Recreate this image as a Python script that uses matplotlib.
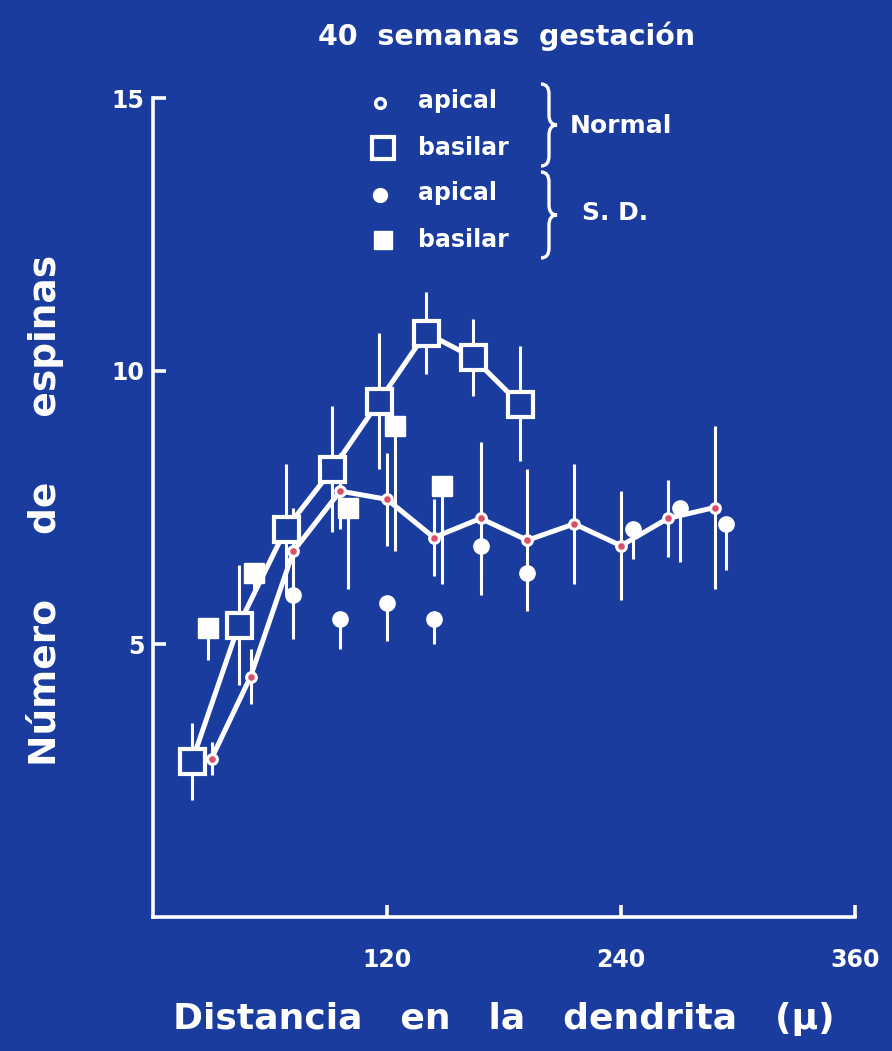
import matplotlib
matplotlib.use("Agg")
import matplotlib.pyplot as plt
from matplotlib.path import Path
from matplotlib.patches import PathPatch
import numpy as np

# Normal, apical dendrites (open circles, joined)
x_norm_apical = [30, 50, 72, 96, 120, 144, 168, 192, 216, 240, 264, 288]
y_norm_apical = [2.9, 4.4, 6.7, 7.8, 7.65, 6.95, 7.3, 6.9, 7.2, 6.8, 7.3, 7.5]
e_norm_apical = [0.3, 0.5, 0.8, 0.7, 0.85, 0.7, 1.4, 1.3, 1.1, 1.0, 0.7, 1.5]

# Normal, basilar dendrites (open squares, joined)
x_norm_basilar = [20, 44, 68, 92, 116, 140, 164, 188]
y_norm_basilar = [2.85, 5.35, 7.1, 8.2, 9.45, 10.7, 10.25, 9.4]
e_norm_basilar = [0.7, 1.1, 1.2, 1.15, 1.25, 0.75, 0.7, 1.05]

# S. D., apical (filled circles, bar below only)
x_sd_apical = [72, 96, 120, 144, 168, 192, 246, 270, 294]
y_sd_apical = [5.9, 5.45, 5.75, 5.45, 6.8, 6.3, 7.1, 7.5, 7.2]
e_sd_apical = [0.8, 0.55, 0.7, 0.45, 0.6, 0.35, 0.55, 1.0, 0.85]

# S. D., basilar (filled squares, bar below only)
x_sd_basilar = [28, 52, 100, 124, 148]
y_sd_basilar = [5.3, 6.3, 7.5, 9.0, 7.9]
e_sd_basilar = [0.6, 0.4, 1.5, 2.3, 1.8]

x_ticks = [120, 240, 360]
y_ticks = [5, 10, 15]

BG = "#1a3c9e"
FG = "white"
W, H = 892, 1051

plt.rcParams["font.family"] = ["DejaVu Sans"]
plt.rcParams["font.weight"] = "bold"

fig = plt.figure(figsize=(W / 100, H / 100), dpi=100, facecolor=BG)
ax = fig.add_axes([153 / W, 1 - 917 / H, (855 - 153) / W, (917 - 98) / H])
ax.set_facecolor(BG)
ax.set_xlim(0, 360)
ax.set_ylim(0, 15)

for side in ["top", "right"]:
    ax.spines[side].set_visible(False)
for side in ["left", "bottom"]:
    ax.spines[side].set_color(FG)
    ax.spines[side].set_linewidth(2.6)

ax.set_xticks(x_ticks)
ax.set_yticks(y_ticks)
ax.tick_params(axis="both", direction="in", color=FG, labelcolor=FG,
               length=9, width=2.6)
ax.tick_params(axis="x", labelsize=17, pad=22)
ax.tick_params(axis="y", labelsize=17, pad=6)

# S. D. series first so the normal lines sit on top where they overlap
zeros = np.zeros(len(e_sd_apical))
ax.errorbar(x_sd_apical, y_sd_apical, yerr=[e_sd_apical, zeros], fmt="o",
            color=FG, ms=11, elinewidth=2.2, capsize=0, zorder=2)
zeros = np.zeros(len(e_sd_basilar))
ax.errorbar(x_sd_basilar, y_sd_basilar, yerr=[e_sd_basilar, zeros], fmt="s",
            color=FG, ms=15, elinewidth=2.2, capsize=0, zorder=2)

ax.errorbar(x_norm_apical, y_norm_apical, yerr=e_norm_apical, fmt="-o",
            color=FG, lw=3.6, ms=7, mfc="#d8506a", mec=FG, mew=2.2,
            elinewidth=2.2, capsize=0, zorder=3)
ax.errorbar(x_norm_basilar, y_norm_basilar, yerr=e_norm_basilar, fmt="-s",
            color=FG, lw=3.6, ms=18, mfc=BG, mec=FG, mew=3,
            elinewidth=2.2, capsize=0, zorder=4)

ax.set_xlabel("Distancia   en   la   dendrita   (\u03bc)", color=FG,
              fontsize=26, fontweight="bold", labelpad=22)
fig.text(45 / W, 1 - 510 / H, "N\u00famero     de     espinas", color=FG,
         fontsize=27, fontweight="bold", rotation=90, ha="center", va="center")
fig.text(507 / W, 1 - 36 / H, "40  semanas  gestaci\u00f3n",
         color=FG, fontsize=20.5, ha="center", va="center")

# legend drawn in pixel space
lg = fig.add_axes([0, 0, 1, 1], zorder=5)
lg.set_xlim(0, W)
lg.set_ylim(H, 0)
lg.axis("off")
lg.patch.set_alpha(0)

lg.plot([380], [103], "o", ms=7, mfc=BG, mec=FG, mew=2.5)
lg.plot([383], [148], "s", ms=16, mfc=BG, mec=FG, mew=3)
lg.plot([380], [195], "o", ms=10, color=FG)
lg.plot([383], [240], "s", ms=13, color=FG)
for y, s in [(101, "apical"), (148, "basilar"), (193, "apical"), (240, "basilar")]:
    lg.text(418, y, s, color=FG, fontsize=17, va="center", ha="left")
lg.text(570, 126, "Normal", color=FG, fontsize=18, va="center", ha="left")
lg.text(582, 213, "S. D.", color=FG, fontsize=18, va="center", ha="left")


def brace(x, y0, y1, w=16, r=10):
    ym = (y0 + y1) / 2
    xm = x + w / 2
    verts = [(x, y0), (xm, y0), (xm, y0 + r), (xm, ym - r),
             (xm, ym), (x + w, ym), (xm, ym), (xm, ym + r),
             (xm, y1 - r), (xm, y1), (x, y1)]
    codes = [Path.MOVETO, Path.CURVE3, Path.CURVE3, Path.LINETO,
             Path.CURVE3, Path.CURVE3, Path.CURVE3, Path.CURVE3,
             Path.LINETO, Path.CURVE3, Path.CURVE3]
    lg.add_patch(PathPatch(Path(verts, codes), fill=False, ec=FG, lw=2.4))


brace(541, 84, 166)
brace(541, 172, 258)

fig.savefig("out.png", dpi=100, facecolor=BG)
